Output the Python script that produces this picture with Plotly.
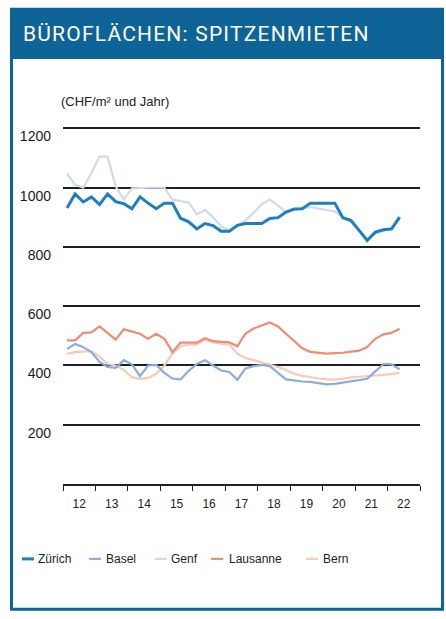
import pandas as pd
import plotly.graph_objects as go

# ---------------- data (quarterly, 2012 Q1 - 2022 Q2) ----------------
quarters = [d.strftime("%Y-%m-%d") for d in pd.date_range("2012-01-01", periods=42, freq="QS")]

zuerich = [932, 979, 952, 969, 943, 979, 953, 946, 929, 969, 948, 929, 948, 948,
           897, 885, 861, 879, 872, 853, 853, 873, 879, 879, 879, 896, 899, 918,
           928, 929, 948, 948, 948, 948, 899, 889, 856, 822, 850, 858, 861, 901]
basel = [455, 473, 462, 445, 412, 395, 392, 418, 404, 364, 400, 402, 375, 356,
         353, 382, 405, 418, 400, 383, 378, 352, 390, 398, 402, 398, 375, 353,
         350, 346, 345, 341, 336, 338, 342, 346, 350, 355, 380, 405, 404, 387]
genf = [1048, 1010, 1000, 1050, 1105, 1105, 1005, 960, 998, 1000, 1000, 1000, 1000, 960,
        955, 950, 910, 925, 900, 870, 855, 870, 890, 915, 945, 960, 940, 918,
        925, 930, 935, 930, 925, 920, 900, 885, 855, 825, 845, 855, 860, 895]
lausanne = [485, 485, 510, 512, 532, 510, 487, 522, 514, 507, 490, 507, 490, 445,
            477, 477, 477, 492, 482, 480, 478, 465, 508, 525, 535, 545, 532, 508,
            482, 458, 446, 442, 440, 442, 443, 447, 450, 462, 490, 505, 510, 524]
bern = [440, 445, 447, 448, 430, 405, 400, 385, 360, 355, 358, 372, 400, 440,
        465, 470, 470, 488, 478, 475, 470, 440, 425, 418, 410, 404, 395, 385,
        372, 365, 360, 356, 353, 352, 355, 360, 362, 364, 365, 368, 372, 375]

series_names = ["Zürich", "Basel", "Genf", "Lausanne", "Bern"]
series_values = [zuerich, basel, genf, lausanne, bern]
series_colors = ["#1b7fc2", "#8badde", "#d2d8ee", "#ef8c74", "#f8cab6"]
series_widths = [3, 2.2, 2.2, 2.2, 2.2]

y_ticks = [200, 400, 600, 800, 1000, 1200]
y_range = [0, 1205]
x_range = ["2012-01-01", "2023-01-01"]

title_text = "BÜROFLÄCHEN: SPITZENMIETEN"
unit_text = "(CHF/m² und Jahr)"

# ---------------- layout geometry ----------------
W, H = 446, 619
L, R, B = 63, 420, 484
T = B - 356 * y_range[1] / 1200.0
BLUE = "#0e6496"
FONT = "Liberation Sans, Arial, sans-serif"


def px_x(p):
    return (p - L) / (R - L)


def px_y(p):
    return (B - p) / (B - T)


fig = go.Figure()

# draw order: light lines first, Zürich on top
for name, vals, col, w in reversed(list(zip(series_names, series_values, series_colors, series_widths))):
    fig.add_trace(go.Scatter(
        x=quarters, y=vals, name=name, mode="lines",
        xperiod="M3", xperiodalignment="middle",
        line=dict(color=col, width=w),
        showlegend=False,
    ))

shapes = []
annotations = []

# header bar and frame
shapes.append(dict(type="rect", xref="paper", yref="paper",
                   x0=px_x(10), x1=px_x(444), y0=px_y(57), y1=px_y(7),
                   fillcolor=BLUE, line=dict(width=0), layer="below"))
shapes.append(dict(type="rect", xref="paper", yref="paper",
                   x0=px_x(11.5), x1=px_x(442.5), y0=px_y(609.5), y1=px_y(57),
                   fillcolor="rgba(0,0,0,0)", line=dict(color=BLUE, width=3)))

annotations.append(dict(xref="paper", yref="paper", x=px_x(21), y=px_y(33),
                        xanchor="left", yanchor="middle", showarrow=False,
                        text=f'<span style="letter-spacing:1.2px">{title_text}</span>',
                        font=dict(family="Roboto, DejaVu Sans, sans-serif", size=21, color="white")))

annotations.append(dict(xref="paper", yref="paper", x=px_x(59), y=px_y(101),
                        xanchor="left", yanchor="middle", showarrow=False,
                        text=unit_text,
                        font=dict(family=FONT, size=13, color="#222")))

# manual legend
legend_line_x = [22, 89, 155, 211, 306]
legend_text_x = [36, 104, 169, 227, 321]
legend_y = 559
for name, col, w, lx, tx in zip(series_names, series_colors, series_widths, legend_line_x, legend_text_x):
    shapes.append(dict(type="line", xref="paper", yref="paper",
                       x0=px_x(lx), x1=px_x(lx + 12), y0=px_y(legend_y), y1=px_y(legend_y),
                       line=dict(color=col, width=w)))
    annotations.append(dict(xref="paper", yref="paper", x=px_x(tx), y=px_y(legend_y),
                            xanchor="left", yanchor="middle", showarrow=False,
                            text=name, font=dict(family=FONT, size=12, color="#222")))

fig.update_layout(
    width=W, height=H,
    margin=dict(l=L, r=W - R, t=T, b=H - B, pad=0),
    paper_bgcolor="white", plot_bgcolor="white",
    showlegend=False,
    shapes=shapes,
    annotations=annotations,
    font=dict(family=FONT, color="#222"),
)

fig.update_xaxes(
    type="date", range=x_range,
    dtick="M12", tick0="2012-01-01", ticklabelmode="period", tickformat="%y",
    ticks="outside", ticklen=5, tickwidth=1.3, tickcolor="#222",
    showline=True, linecolor="#222", linewidth=1.5,
    showgrid=False, zeroline=False,
    tickfont=dict(family=FONT, size=12, color="#222"),
    ticklabelstandoff=3,
)

fig.update_yaxes(
    range=y_range, tickvals=y_ticks, ticktext=[str(v) for v in y_ticks],
    showgrid=True, gridcolor="#1f1f1f", gridwidth=1.6,
    zeroline=False, showline=False, ticks="",
    tickfont=dict(family=FONT, size=14, color="#1a1a1a"),
    ticklabelshift=8, ticklabelstandoff=11,
)

fig.write_html("out.html")
